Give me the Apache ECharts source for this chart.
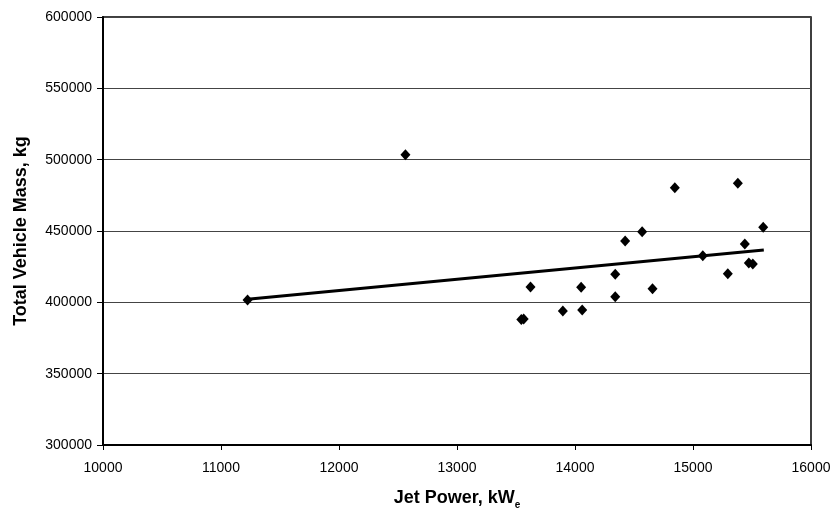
<!DOCTYPE html>
<html>
<head>
<meta charset="utf-8">
<script src="https://cdn.jsdelivr.net/npm/echarts@6/dist/echarts.min.js"></script>
<style>
  html, body { margin: 0; padding: 0; background: #fff; }
  #chart-main { width: 834px; height: 510px; }
</style>
</head>
<body>
<div id="chart-main"></div>
<script>
// Jet power vs total vehicle mass, scatter + linear trend
const jetPower = [11225, 12563, 13545, 13565, 13623, 13897, 14052, 14061, 14341, 14341,
                  14425, 14569, 14657, 14846, 15083, 15295, 15380, 15439, 15473, 15507, 15595];
const vehicleMass = [401600, 503500, 388000, 388300, 410700, 393900, 410500, 394600, 419600, 404000,
                     443000, 449500, 409600, 480300, 432700, 420100, 483400, 440900, 427600, 426900, 452600];

// trend line end points
const trendX = [11225, 15600];
const trendY = [402100, 436700];

const xTicks = [10000, 11000, 12000, 13000, 14000, 15000, 16000];
const yTicks = [300000, 350000, 400000, 450000, 500000, 550000, 600000];

const FONT = 'Arial, "Liberation Sans", sans-serif';

const chart = echarts.init(document.getElementById('chart-main'));
const option = {
    backgroundColor: '#fff',
    animation: false,
    grid: {
        left: 103, right: 23, top: 17, bottom: 65,
        outerBoundsMode: 'none',
        containLabel: false,
        show: true,
        borderColor: '#000',
        borderWidth: 1.5,
        backgroundColor: 'transparent'
    },
    xAxis: {
        type: 'value',
        min: xTicks[0],
        max: xTicks[xTicks.length - 1],
        interval: 1000,
        name: 'Jet Power, kW{sub|e}',
        nameLocation: 'middle',
        nameGap: 44,
        nameTextStyle: {
            fontFamily: FONT, fontSize: 18, fontWeight: 'bold', color: '#000',
            rich: {
                sub: { fontFamily: FONT, fontSize: 10, fontWeight: 'bold', color: '#000',
                       verticalAlign: 'bottom', padding: [0, 0, -3, 0] }
            }
        },
        axisLine: { show: true, lineStyle: { color: '#000', width: 2 } },
        axisTick: { show: true, length: 5, lineStyle: { color: '#000', width: 1 } },
        axisLabel: { fontFamily: FONT, fontSize: 14, color: '#000', margin: 16,
                     formatter: v => String(v) },
        splitLine: { show: false }
    },
    yAxis: {
        type: 'value',
        min: yTicks[0],
        max: yTicks[yTicks.length - 1],
        interval: 50000,
        name: 'Total Vehicle Mass, kg',
        nameLocation: 'middle',
        nameGap: 73,
        nameTextStyle: { fontFamily: FONT, fontSize: 18, fontWeight: 'bold', color: '#000' },
        axisLine: { show: true, lineStyle: { color: '#000', width: 2 } },
        axisTick: { show: true, length: 6, lineStyle: { color: '#000', width: 1 } },
        axisLabel: { fontFamily: FONT, fontSize: 14, color: '#000', margin: 11,
                     formatter: v => String(v) },
        splitLine: { show: true, lineStyle: { color: '#444', width: 1 } }
    },
    series: [
        {
            name: 'Trend',
            type: 'line',
            data: trendX.map((x, i) => [x, trendY[i]]),
            showSymbol: false,
            lineStyle: { color: '#000', width: 3 },
            z: 3
        },
        {
            name: 'Vehicles',
            type: 'scatter',
            data: jetPower.map((x, i) => [x, vehicleMass[i]]),
            symbol: 'diamond',
            symbolSize: [10, 11],
            itemStyle: { color: '#000', opacity: 1 },
            z: 4
        }
    ]
};
chart.setOption(option);
</script>
</body>
</html>
